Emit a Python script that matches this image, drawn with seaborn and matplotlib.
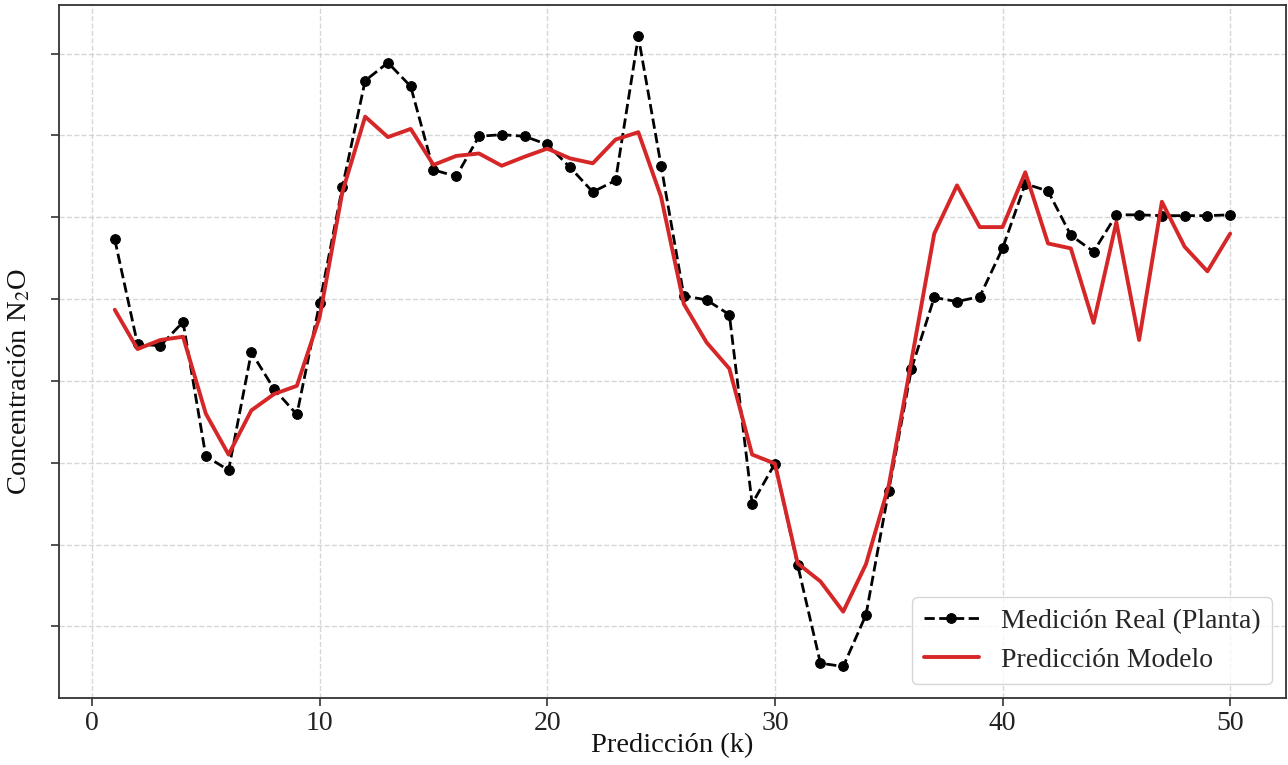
import numpy as np
import pandas as pd
import matplotlib
matplotlib.use("Agg")
import matplotlib.pyplot as plt
import seaborn as sns

# Prediction steps
k = list(range(1, 51))

# Measured N2O concentration at the plant (normalised units)
medicion_real = [
    4.73, 3.45, 3.43, 3.72, 2.08, 1.91, 3.35, 2.90, 2.59, 3.95,
    5.37, 6.67, 6.89, 6.60, 5.58, 5.50, 5.99, 6.01, 5.99, 5.89,
    5.61, 5.31, 5.45, 7.21, 5.63, 4.04, 3.99, 3.81, 1.50, 1.99,
    0.75, -0.45, -0.49, 0.14, 1.66, 3.15, 4.02, 3.97, 4.03, 4.62,
    5.41, 5.32, 4.78, 4.58, 5.03, 5.03, 5.02, 5.02, 5.02, 5.03,
]

# Model prediction
prediccion_modelo = [
    3.87, 3.39, 3.50, 3.54, 2.60, 2.10, 2.64, 2.84, 2.94, 3.78,
    5.31, 6.23, 5.98, 6.08, 5.64, 5.75, 5.78, 5.63, 5.74, 5.84,
    5.72, 5.66, 5.95, 6.04, 5.25, 3.94, 3.47, 3.15, 2.10, 1.99,
    0.77, 0.55, 0.18, 0.76, 1.72, 3.25, 4.80, 5.39, 4.88, 4.88,
    5.55, 4.68, 4.62, 3.71, 4.94, 3.50, 5.19, 4.64, 4.34, 4.80,
]

x_ticks = [0, 10, 20, 30, 40, 50]
y_ticks = [0, 1, 2, 3, 4, 5, 6, 7]

df = pd.DataFrame({"k": k, "real": medicion_real, "pred": prediccion_modelo})

sns.set_theme(style="ticks")
plt.rcParams["font.family"] = ["Liberation Serif", "DejaVu Serif"]
plt.rcParams["mathtext.fontset"] = "stix"

fig = plt.figure(figsize=(12.88, 7.65), dpi=100)
ax = fig.add_axes([0.0458, 0.0876, 0.9526, 0.9059])

sns.lineplot(data=df, x="k", y="real", ax=ax, color="black", linestyle="--",
             linewidth=2.0, marker="o", markersize=7, markeredgecolor="black",
             label="Medición Real (Planta)")
sns.lineplot(data=df, x="k", y="pred", ax=ax, color="#d62728", linestyle="-",
             linewidth=2.8, label="Predicción Modelo")

ax.set_xticks(x_ticks)
ax.set_yticks(y_ticks)
ax.set_yticklabels([])
ax.tick_params(axis="both", labelsize=20, length=6, width=1.2, colors="#333333",
               labelcolor="#222222")

ax.grid(True, linestyle="--", color="#cccccc", linewidth=1.0, alpha=0.8)
for s in ax.spines.values():
    s.set_color("#333333")
    s.set_linewidth(1.3)

ax.set_xlabel("Predicción (k)", fontsize=20.5, labelpad=-2, color="#111111")
ax.set_ylabel("Concentración N$_2$O", fontsize=20.5, color="#111111")
ax.yaxis.set_label_coords(-0.022, 0.456)

leg = ax.legend(loc="lower right", fontsize=20, frameon=True, fancybox=True,
                framealpha=0.8, edgecolor="#cccccc", handlelength=2.0)

fig.savefig("out.png", dpi=100)
